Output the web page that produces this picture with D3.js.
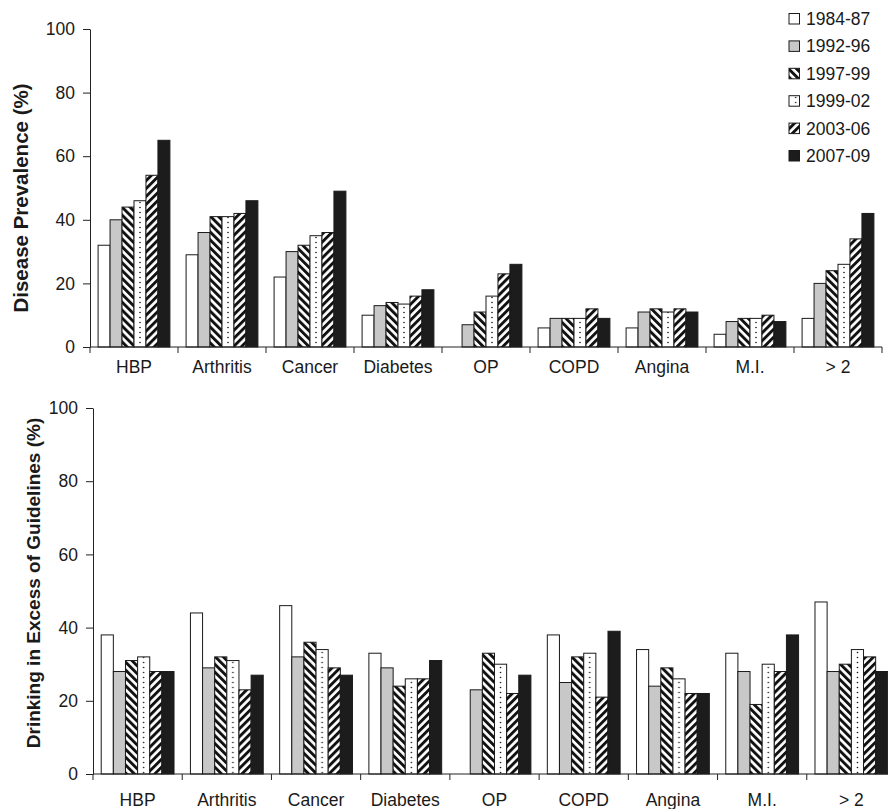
<!DOCTYPE html>
<html>
<head>
<meta charset="utf-8">
<script src="https://cdn.jsdelivr.net/npm/d3@7"></script>
<style>
  body { margin: 0; background: #fff; }
  text { font-family: "Liberation Sans", Arial, sans-serif; fill: #1a1a1a; }
</style>
</head>
<body>
<div id="chart"></div>
<script>
var categories = ["HBP", "Arthritis", "Cancer", "Diabetes", "OP", "COPD", "Angina", "M.I.", "> 2"];
var periods = ["1984-87", "1992-96", "1997-99", "1999-02", "2003-06", "2007-09"];
var yTicks = [0, 20, 40, 60, 80, 100];

// disease prevalence (%), one array per period (OP not recorded in 1984-87)
var prev_1984_87 = [32, 29, 22, 10, null, 6, 6, 4, 9];
var prev_1992_96 = [40, 36, 30, 13, 7, 9, 11, 8, 20];
var prev_1997_99 = [44, 41, 32, 14, 11, 9, 12, 9, 24];
var prev_1999_02 = [46, 41, 35, 13.5, 16, 9, 11, 9, 26];
var prev_2003_06 = [54, 42, 36, 16, 23, 12, 12, 10, 34];
var prev_2007_09 = [65, 46, 49, 18, 26, 9, 11, 8, 42];

// drinking in excess of guidelines (%)
var drink_1984_87 = [38, 44, 46, 33, null, 38, 34, 33, 47];
var drink_1992_96 = [28, 29, 32, 29, 23, 25, 24, 28, 28];
var drink_1997_99 = [31, 32, 36, 24, 33, 32, 29, 19, 30];
var drink_1999_02 = [32, 31, 34, 26, 30, 33, 26, 30, 34];
var drink_2003_06 = [28, 23, 29, 26, 22, 21, 22, 28, 32];
var drink_2007_09 = [28, 27, 27, 31, 27, 39, 22, 38, 28];

var W = 888, H = 809;

var svg = d3.select("#chart").append("svg")
  .attr("width", W)
  .attr("height", H);

var defs = svg.append("defs");

// diagonal stripes
function stripes(id, angle) {
  var p = defs.append("pattern")
    .attr("id", id)
    .attr("patternUnits", "userSpaceOnUse")
    .attr("width", 5.6).attr("height", 5.6)
    .attr("patternTransform", "rotate(" + angle + ")");
  p.append("rect").attr("width", 5.6).attr("height", 5.6).attr("fill", "#fff");
  p.append("rect").attr("width", 2.9).attr("height", 5.6).attr("fill", "#111");
}
stripes("back", -45);   // 1997-99  \\\
stripes("fwd", 45);     // 2003-06  ///

var dotCount = 0;
// dotted fill centred on the bar
function dotPattern(x, w) {
  var id = "dots" + (dotCount++);
  var p = defs.append("pattern")
    .attr("id", id)
    .attr("patternUnits", "userSpaceOnUse")
    .attr("x", x).attr("y", 0)
    .attr("width", w).attr("height", 5);
  p.append("rect").attr("width", w).attr("height", 5).attr("fill", "#fff");
  p.append("circle").attr("cx", w / 2).attr("cy", 2.5).attr("r", 0.8).attr("fill", "#111");
  return "url(#" + id + ")";
}

var fills = ["#ffffff", "#c8c8c8", "url(#back)", null, "url(#fwd)", "#1c1c1c"];

function panel(series, opt) {
  var x = d3.scaleBand()
    .domain(categories)
    .range([opt.left, opt.right]);

  var xs = d3.scaleBand()
    .domain(periods)
    .range([x.bandwidth() * 0.092, x.bandwidth() * 0.908]);

  var y = d3.scaleLinear()
    .domain([0, 100])
    .range([opt.bottom, opt.top]);

  var g = svg.append("g");

  // bars
  periods.forEach(function(per, j) {
    categories.forEach(function(cat, i) {
      var v = series[j][i];
      if (v == null) return;
      var bx = x(cat) + xs(per);
      var fill = fills[j] || dotPattern(bx, xs.bandwidth());
      g.append("rect")
        .attr("x", bx)
        .attr("y", y(v))
        .attr("width", xs.bandwidth())
        .attr("height", y(0) - y(v))
        .attr("fill", fill)
        .attr("stroke", "#1a1a1a")
        .attr("stroke-width", 1);
    });
  });

  // y axis
  var ya = g.append("g")
    .attr("transform", "translate(" + opt.left + ",0)")
    .call(d3.axisLeft(y).tickValues(yTicks).tickSize(7).tickPadding(8).tickSizeOuter(0));
  ya.select(".domain").attr("stroke", "#222");
  ya.selectAll(".tick line").attr("stroke", "#222");
  ya.selectAll(".tick text")
    .attr("font-size", 17.5)
    .attr("font-family", "Liberation Sans, Arial, sans-serif")
    .attr("fill", "#1a1a1a");

  // x axis: ticks at category boundaries
  var xa = g.append("g")
    .attr("transform", "translate(0," + opt.bottom + ")");
  xa.append("line")
    .attr("x1", opt.left).attr("x2", opt.right)
    .attr("stroke", "#222");
  var bounds = categories.map(function(c) { return x(c); }).concat([opt.right]);
  xa.selectAll("line.tk")
    .data(bounds)
    .enter().append("line")
    .attr("class", "tk")
    .attr("x1", function(d) { return d; })
    .attr("x2", function(d) { return d; })
    .attr("y1", 0).attr("y2", 6)
    .attr("stroke", "#222");
  xa.selectAll("text")
    .data(categories)
    .enter().append("text")
    .attr("x", function(d) { return x(d) + x.bandwidth() / 2; })
    .attr("y", opt.labelY - opt.bottom)
    .attr("text-anchor", "middle")
    .attr("font-size", 17.5)
    .text(function(d) { return d; });

  // axis title
  g.append("text")
    .attr("transform", "translate(" + opt.titleX + "," + opt.titleY + ") rotate(-90)")
    .attr("text-anchor", "middle")
    .attr("font-size", opt.titleSize)
    .attr("font-weight", "bold")
    .text(opt.title);
}

panel([prev_1984_87, prev_1992_96, prev_1997_99, prev_1999_02, prev_2003_06, prev_2007_09], {
  left: 90, right: 882, top: 29, bottom: 347, labelY: 373,
  title: "Disease Prevalence (%)", titleX: 28, titleY: 198, titleSize: 20.5
});

panel([drink_1984_87, drink_1992_96, drink_1997_99, drink_1999_02, drink_2003_06, drink_2007_09], {
  left: 93, right: 896, top: 408, bottom: 774, labelY: 806,
  title: "Drinking in Excess of Guidelines (%)", titleX: 40, titleY: 583, titleSize: 19
});

// legend
var leg = svg.append("g").attr("transform", "translate(789,0)");
periods.forEach(function(per, j) {
  var cy = 19 + j * 27.4;
  var f = fills[j] || dotPattern(789, 10.5);
  leg.append("rect")
    .attr("x", 0).attr("y", cy - 5.5)
    .attr("width", 10.5).attr("height", 10.5)
    .attr("fill", f)
    .attr("stroke", "#1a1a1a");
  leg.append("text")
    .attr("x", 17).attr("y", cy + 6)
    .attr("font-size", 17.5)
    .text(per);
});
</script>
</body>
</html>
